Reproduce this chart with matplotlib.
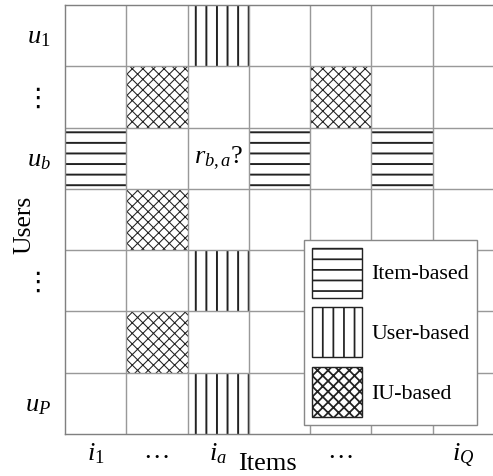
'''
Rating matrix sketch: which neighbour cells each CF method uses
'''
import matplotlib
matplotlib.use('Agg')
import matplotlib.pyplot as plt
from matplotlib.patches import Rectangle, Patch

# matrix size and labels
n_users = 7
n_items = 7
user_labels = ['$u_{\\mathit{1}}$', '⋮', '$u_b$', '', '⋮', '', '$u_P$']
item_labels = ['$i_{\\mathit{1}}$', '…', '$i_a$', '', '…', '', '$i_Q$']

# (row, col) of the cells used by each method
item_based = [(2, 0), (2, 3), (2, 5)]
user_based = [(0, 2), (4, 2), (6, 2)]
iu_based = [(1, 1), (1, 4), (3, 1), (5, 1)]

# the rating to predict
target = (2, 2)
target_text = '$r_{b,a}?$'

methods = ['Item-based', 'User-based', 'IU-based']
hatches = ['--', '||', 'xxxx']
hatch_widths = [1.1, 1.1, 0.6]

DPI = 127
plt.rcParams['font.family'] = ['Liberation Serif', 'DejaVu Serif', 'DejaVu Sans']
plt.rcParams['mathtext.fontset'] = 'custom'
plt.rcParams['mathtext.rm'] = 'Liberation Serif'
plt.rcParams['mathtext.it'] = 'Liberation Serif:italic'
plt.rcParams['mathtext.bf'] = 'Liberation Serif:bold'


def add_cell(ax, row, col, hatch, hlw):
    '''
    Draw one hatched cell of the matrix
    '''
    rect = Rectangle((col, row), 1, 1, facecolor='white', edgecolor='#222222',
                     linewidth=0, hatch=hatch, zorder=1)
    if hasattr(rect, 'set_hatch_linewidth'):
        rect.set_hatch_linewidth(hlw)
    ax.add_patch(rect)


def main():
    fig = plt.figure(figsize=(493 / DPI, 476 / DPI), dpi=DPI)
    ax = fig.add_axes([65 / 493, 42 / 476, 429 / 493, 429 / 476])
    ax.set_xlim(0, n_items)
    ax.set_ylim(n_users, 0)

    cells = [item_based, user_based, iu_based]
    for i, group in enumerate(cells):
        for row, col in group:
            add_cell(ax, row, col, hatches[i], hatch_widths[i])

    # grid lines
    for k in range(1, n_items):
        ax.axvline(k, color='#999999', linewidth=0.8, zorder=2)
    for k in range(1, n_users):
        ax.axhline(k, color='#999999', linewidth=0.8, zorder=2)

    ax.text(target[1] + 0.5, target[0] + 0.5, target_text, ha='center',
            va='center', fontsize=15)

    ax.set_yticks([r + 0.5 for r in range(n_users)])
    ax.set_yticklabels(user_labels, fontsize=15)
    ax.set_xticks([c + 0.5 for c in range(n_items)])
    ax.set_xticklabels(item_labels, fontsize=15)
    ax.tick_params(axis='y', length=0, pad=8)
    ax.tick_params(axis='x', length=0, pad=4)

    for side in ax.spines:
        ax.spines[side].set_color('#808080')
        ax.spines[side].set_linewidth(0.8)

    ax.set_xlabel('Items', fontsize=15)
    ax.xaxis.set_label_coords(0.473, -0.045)
    ax.set_ylabel('Users', fontsize=14.5)
    ax.yaxis.set_label_coords(-0.068, 0.487)

    # legend
    handles = []
    for i, name in enumerate(methods):
        h = Patch(facecolor='white', edgecolor='#222222', linewidth=0.8,
                  hatch=hatches[i], label=name)
        if hasattr(h, 'set_hatch_linewidth'):
            h.set_hatch_linewidth(hatch_widths[i])
        handles.append(h)
    leg = ax.legend(handles=handles, loc='upper left',
                    bbox_to_anchor=(304 / 493, 1 - 240 / 476),
                    bbox_transform=fig.transFigure, fontsize=12.5,
                    handlelength=2.3, handleheight=3.1, labelspacing=0.45,
                    handletextpad=0.4, borderpad=0.35, borderaxespad=0,
                    fancybox=False, framealpha=1, edgecolor='#888888')
    leg.get_frame().set_linewidth(0.8)

    plt.savefig('out.png', dpi=DPI)


if __name__ == '__main__':
    main()
